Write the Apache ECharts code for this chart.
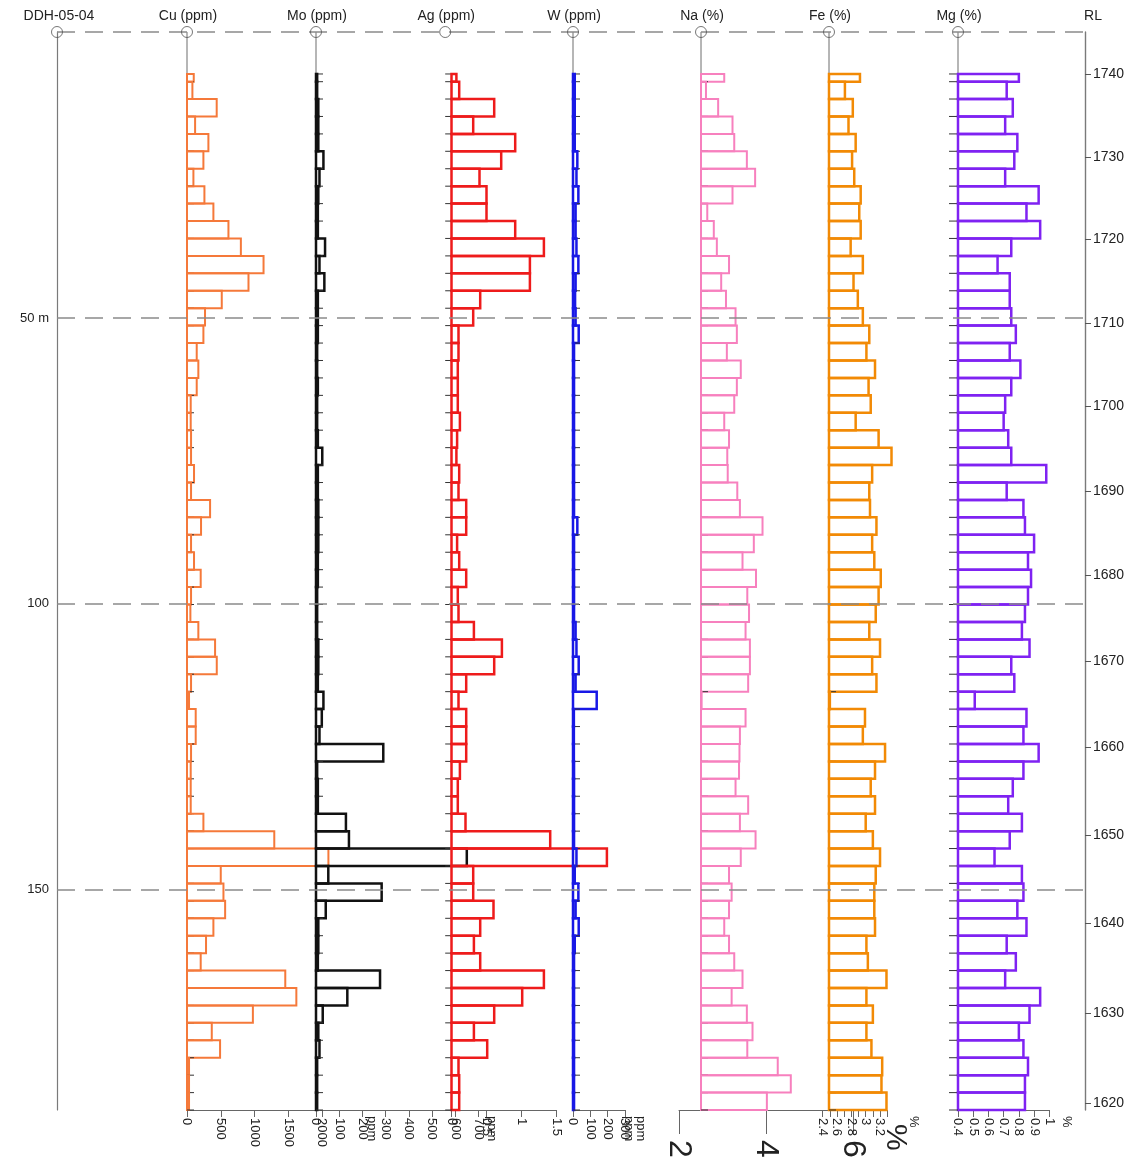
<!DOCTYPE html>
<html><head><meta charset="utf-8">
<script src="https://cdn.jsdelivr.net/npm/echarts@6/dist/echarts.min.js"></script>
<style>html,body{margin:0;padding:0;background:#fff}#c{width:1140px;height:1172px}</style>
</head><body><div id="c"></div>
<script>
// sample interval boundaries (down-hole depth, m)
const depthTop = [7.34, 8.69, 11.72, 14.77, 17.82, 20.86, 23.91, 26.96, 30.01, 33.06, 36.10, 39.15, 42.20, 45.25, 48.30, 51.34, 54.39, 57.44, 60.49, 63.54, 66.58, 69.63, 72.68, 75.73, 78.78, 81.82, 84.87, 87.92, 90.97, 94.02, 97.06, 100.11, 103.16, 106.21, 109.26, 112.30, 115.35, 118.40, 121.45, 124.50, 127.54, 130.59, 133.64, 136.69, 139.74, 142.78, 145.83, 148.88, 151.93, 154.98, 158.02, 161.07, 164.12, 167.17, 170.22, 173.26, 176.31, 179.36, 182.41, 185.46, 188.50];

const cu = [100, 80, 440, 120, 317, 243, 95, 258, 391, 614, 798, 1134, 911, 515, 267, 243, 144, 168, 144, 55,
  55, 60, 60, 104, 60, 342, 208, 60, 104, 203, 60, 50, 168, 416, 441, 60, 30, 129, 129, 60,
  55, 55, 55, 243, 1293, 2095, 500, 540, 565, 391, 282, 203, 1456, 1620, 976, 367, 490, 30, 30, 30];
const mo = [5, 5, 10, 10, 10, 32, 15, 10, 8, 8, 39, 15, 36, 8, 8, 8, 5, 5, 8, 5,
  5, 8, 27, 8, 8, 10, 10, 10, 8, 8, 5, 5, 5, 10, 10, 8, 32, 25, 15, 290,
  5, 8, 8, 129, 142, 650, 53, 283, 42, 10, 10, 8, 276, 135, 29, 10, 15, 5, 5, 5];
const ag = [0.07, 0.11, 0.61, 0.31, 0.91, 0.71, 0.40, 0.50, 0.50, 0.91, 1.32, 1.12, 1.12, 0.41, 0.31, 0.10, 0.10, 0.09, 0.09, 0.09,
  0.12, 0.08, 0.07, 0.11, 0.10, 0.21, 0.21, 0.08, 0.11, 0.21, 0.09, 0.10, 0.32, 0.72, 0.61, 0.21, 0.10, 0.21, 0.21, 0.21,
  0.12, 0.09, 0.09, 0.20, 1.41, 2.22, 0.31, 0.31, 0.60, 0.41, 0.32, 0.41, 1.32, 1.01, 0.61, 0.32, 0.51, 0.10, 0.11, 0.11];
const w = [10, 10, 10, 10, 10, 25, 20, 31, 15, 15, 20, 31, 15, 12, 15, 33, 6, 6, 6, 6,
  6, 6, 6, 6, 6, 6, 25, 6, 6, 6, 6, 6, 15, 20, 33, 15, 137, 5, 5, 5,
  6, 6, 6, 6, 6, 20, 10, 31, 15, 33, 10, 6, 6, 6, 6, 6, 6, 6, 6, 6];
const na = [3.04, 2.62, 2.90, 3.23, 3.27, 3.56, 3.75, 3.23, 2.65, 2.80, 2.87, 3.15, 2.97, 3.08, 3.30, 3.33, 3.10, 3.42, 3.33, 3.27,
  3.04, 3.15, 3.11, 3.12, 3.34, 3.40, 3.92, 3.72, 3.46, 3.77, 3.57, 3.61, 3.53, 3.63, 3.63, 3.59, 2.52, 3.53, 3.40, 3.39,
  3.38, 3.30, 3.59, 3.40, 3.76, 3.42, 3.15, 3.21, 3.15, 3.04, 3.15, 3.27, 3.46, 3.21, 3.56, 3.69, 3.57, 4.27, 4.57, 4.02];
const fe = [2.92, 2.71, 2.82, 2.76, 2.86, 2.81, 2.84, 2.93, 2.91, 2.93, 2.79, 2.96, 2.83, 2.89, 2.96, 3.05, 3.01, 3.13, 3.04, 3.07,
  2.86, 3.18, 3.36, 3.09, 3.05, 3.06, 3.15, 3.09, 3.12, 3.21, 3.18, 3.14, 3.05, 3.20, 3.09, 3.15, 2.50, 2.99, 2.96, 3.27,
  3.13, 3.07, 3.13, 3.00, 3.10, 3.20, 3.14, 3.12, 3.12, 3.13, 3.01, 3.03, 3.29, 3.01, 3.10, 3.01, 3.08, 3.23, 3.22, 3.29];
const mg = [0.80, 0.72, 0.76, 0.71, 0.79, 0.77, 0.71, 0.93, 0.85, 0.94, 0.75, 0.66, 0.74, 0.74, 0.75, 0.78, 0.74, 0.81, 0.75, 0.71,
  0.70, 0.73, 0.75, 0.98, 0.72, 0.83, 0.84, 0.90, 0.86, 0.88, 0.86, 0.84, 0.82, 0.87, 0.75, 0.77, 0.51, 0.85, 0.83, 0.93,
  0.83, 0.76, 0.73, 0.82, 0.74, 0.64, 0.82, 0.83, 0.79, 0.85, 0.72, 0.78, 0.71, 0.94, 0.87, 0.80, 0.83, 0.86, 0.84, 0.84];

const headers = ['Cu (ppm)', 'Mo (ppm)', 'Ag (ppm)', 'W (ppm)', 'Na (%)', 'Fe (%)', 'Mg (%)'];
const holeName = 'DDH-05-04';
const depthLabels = [50, 100, 150];
const rlLabels = [1740, 1730, 1720, 1710, 1700, 1690, 1680, 1670, 1660, 1650, 1640, 1630, 1620];
const rlDepth = [7.34, 21.86, 36.20, 50.88, 65.40, 80.26, 94.95, 109.98, 125.02, 140.41, 155.80, 171.53, 187.27];

const FONT = 'Arial, "Liberation Sans", Helvetica, sans-serif';
const DMAX = 188.5, GTOP = 32, GH = 1078;
const GRAY = '#7a7a7a';

const tracks = [
  {data: cu, left: 187, width: 135, min: 0, max: 2000, interval: 500, base: 0, guide: 0, color: '#F5793A', lw: 2, name: 'ppm', nameGap: 50},
  {data: mo, left: 316, width: 162.4, min: 0, max: 700, interval: 100, base: 0, guide: 0, color: '#111111', lw: 2.5, name: 'ppm', nameGap: 13},
  {data: ag, left: 451.5, width: 105, min: 0, max: 1.5, interval: 0.5, base: 0, guide: -0.09, color: '#EE1B1B', lw: 2.5, name: 'ppm', nameGap: 72},
  {data: w, left: 573, width: 51.9, min: 0, max: 300, interval: 100, base: 0, guide: 0, color: '#1818E6', lw: 2.5, name: 'ppm', nameGap: 16},
  {data: na, left: 679, width: 174, min: 2, max: 6, interval: 2, base: 2.506, guide: 2.506, color: '#F780BE', lw: 2, name: '%', nameGap: 42, big: true},
  {data: fe, left: 822.7, width: 64.5, min: 2.4, max: 3.3, interval: 0.1, even: true, base: 2.488, guide: 2.488, color: '#F28A05', lw: 2.5, name: '%', nameGap: 26},
  {data: mg, left: 958, width: 91.3, min: 0.4, max: 1.0, interval: 0.1, base: 0.4, guide: 0.4, color: '#7F22F2', lw: 2.5, name: '%', nameGap: 17, tickLeft: true}
];

const grid = [{left: 57, top: GTOP, width: 1028, height: GH}];
const xAxis = [{gridIndex: 0, type: 'value', min: 0, max: 1, show: false}];
const yAxis = [
  {gridIndex: 0, type: 'value', min: 0, max: DMAX, inverse: true, position: 'left',
   axisLine: {show: true, lineStyle: {color: GRAY, width: 1.2}},
   axisTick: {show: false}, splitLine: {show: false},
   axisLabel: {customValues: depthLabels, margin: 8, fontFamily: FONT, fontSize: 13, color: '#222',
     formatter: v => v === 50 ? '50 m' : String(v)}},
  {gridIndex: 0, type: 'value', min: 0, max: DMAX, inverse: true, position: 'right',
   axisLine: {show: true, onZero: false, lineStyle: {color: GRAY, width: 1.4}},
   axisTick: {show: true, customValues: rlDepth, length: 6, lineStyle: {color: '#555'}},
   splitLine: {show: false},
   axisLabel: {customValues: rlDepth, margin: 8, fontFamily: FONT, fontSize: 14, color: '#222',
     formatter: v => String(rlLabels[rlDepth.indexOf(v)])}}
];

const series = [{
  type: 'scatter', xAxisIndex: 0, yAxisIndex: 0, data: [[0, 0]], clip: false,
  symbol: 'circle', symbolSize: 11, z: 5,
  itemStyle: {color: 'rgba(0,0,0,0)', borderColor: '#555', borderWidth: 1},
  markLine: {silent: true, symbol: 'none', label: {show: false},
    lineStyle: {color: '#8a8a8a', type: [18, 10], width: 1.5},
    data: [{yAxis: 0}, {yAxis: 50}, {yAxis: 100}, {yAxis: 150}]}
}];

const graphic = [];
function pxOf(t, v) { return t.left + (v - t.min) / (t.max - t.min) * t.width; }
graphic.push({type: 'text', x: 59, y: 16, style: {text: holeName, font: '14px ' + FONT, fill: '#222', align: 'center', verticalAlign: 'middle'}});
graphic.push({type: 'text', x: 1093, y: 16, style: {text: 'RL', font: '14px ' + FONT, fill: '#222', align: 'center', verticalAlign: 'middle'}});

tracks.forEach((t, i) => {
  const gi = i + 1;          // grid / xAxis index
  const yi = i + 2;          // yAxis index (grid 0 has two y axes)
  grid.push({left: t.left, top: GTOP, width: t.width, height: GH});
  xAxis.push({
    gridIndex: gi, type: 'value', min: t.min, max: t.max, interval: t.interval, position: 'bottom',
    axisLine: {show: true, onZero: false, lineStyle: {color: '#666', width: 1}},
    axisTick: {show: true, length: t.big ? 24 : 7, lineStyle: {color: '#666'}},
    splitLine: {show: false},
    name: t.name, nameLocation: 'end', nameGap: t.nameGap, nameRotate: -90,
    nameTextStyle: {fontFamily: FONT, fontSize: t.big ? 30 : 13, color: '#222', align: 'left', verticalAlign: 'middle', padding: [0, 0, 0, t.big ? 14 : 6]},
    axisLabel: {rotate: -90, margin: t.big ? 30 : 8, fontFamily: FONT, fontSize: t.big ? 32 : 13, color: '#222',
      formatter: t.even ? (v => (Math.round(v * 10) % 2 === 0 ? String(+v.toFixed(1)) : '')) : (v => String(+(+v).toFixed(2)))}
  });
  yAxis.push({gridIndex: gi, type: 'value', min: 0, max: DMAX, inverse: true, show: false});

  // guide line
  series.push({type: 'line', xAxisIndex: gi, yAxisIndex: yi, clip: false, symbol: 'none', silent: true, z: 1,
    lineStyle: {color: GRAY, width: 1.1}, data: [[t.guide, 0], [t.guide, DMAX]]});

  // step outline bars
  const data = t.data.map((v, k) => [v, depthTop[k], depthTop[k + 1]]);
  const last = data.length - 1;
  series.push({
    type: 'custom', xAxisIndex: gi, yAxisIndex: yi, clip: false, z: 3 + i * 0.01,
    data: data,
    renderItem: function (params, api) {
      const v = api.value(0), top = api.value(1), bot = api.value(2);
      const p0 = api.coord([t.base, top]);
      const p1 = api.coord([v, bot]);
      const g0 = api.coord([t.guide, top]);
      const g1 = api.coord([t.guide, bot]);
      const tx = t.tickLeft ? -9 : 7;
      const children = [
        {type: 'line', shape: {x1: g0[0], y1: g0[1], x2: g0[0] + tx, y2: g0[1]}, style: {stroke: '#333', lineWidth: 1}},
        {type: 'rect', shape: {x: Math.min(p0[0], p1[0]), y: p0[1], width: Math.abs(p1[0] - p0[0]), height: p1[1] - p0[1]},
          style: {fill: 'none', stroke: t.color, lineWidth: t.lw}}
      ];
      if (params.dataIndex === last) {
        children.push({type: 'line', shape: {x1: g1[0], y1: g1[1], x2: g1[0] + tx, y2: g1[1]}, style: {stroke: '#333', lineWidth: 1}});
      }
      return {type: 'group', children: children};
    }
  });

  // top circle
  series.push({type: 'scatter', xAxisIndex: gi, yAxisIndex: yi, clip: false, data: [[t.guide, 0]],
    symbol: 'circle', symbolSize: 11, z: 5, silent: true,
    itemStyle: {color: 'rgba(0,0,0,0)', borderColor: '#555', borderWidth: 1}});

  graphic.push({type: 'text', x: pxOf(t, t.guide) + 1, y: 16,
    style: {text: headers[i], font: '14px ' + FONT, fill: '#222', align: 'center', verticalAlign: 'middle'}});
});

const chart = echarts.init(document.getElementById('c'), null, {renderer: 'canvas'});
chart.setOption({animation: false, backgroundColor: '#fff', textStyle: {fontFamily: FONT},
  grid, xAxis, yAxis, series, graphic});
</script></body></html>
